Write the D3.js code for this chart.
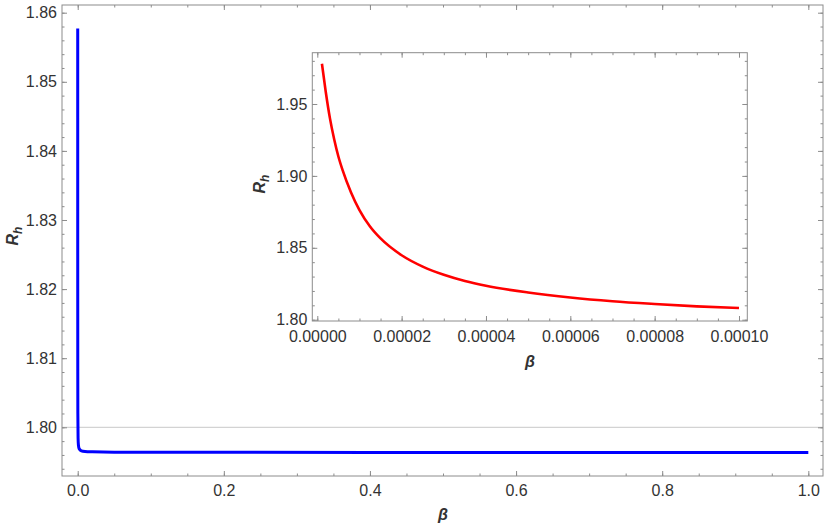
<!DOCTYPE html>
<html>
<head>
<meta charset="utf-8">
<script src="https://cdn.jsdelivr.net/npm/d3@7"></script>
<style>
  body { margin: 0; background: #fff; }
  text { font-family: "Liberation Sans", Arial, sans-serif; }
</style>
</head>
<body>
<div id="chart"></div>
<script>
// curva principal (beta de 0 a 1)
const betaMain = [0.000014, 0.00002, 0.00003, 0.00005, 0.0001, 0.0002, 0.0005, 0.001, 0.002, 0.005, 0.01, 0.02, 0.05, 0.1, 0.2, 0.4, 0.6, 0.8, 1.0];
const rhMain = [1.8577, 1.8448, 1.8312, 1.8189, 1.8081, 1.8020, 1.7985, 1.7974, 1.7969, 1.7966, 1.7965, 1.79645, 1.7964, 1.79640, 1.79638, 1.79637, 1.79636, 1.79635, 1.79635];

// curva del recuadro (beta pequeño)
const betaInset = [0.0000011, 0.000002, 0.000003, 0.000004, 0.000005, 0.000006, 0.000008, 0.00001, 0.0000125, 0.000015, 0.00002, 0.000025, 0.00003, 0.000035, 0.00004, 0.00005, 0.00006, 0.00007, 0.00008, 0.00009, 0.0001];
const rhInset = [1.9780, 1.9585, 1.9400, 1.9255, 1.9135, 1.9040, 1.8885, 1.8762, 1.8648, 1.8565, 1.8448, 1.8369, 1.8312, 1.8269, 1.8236, 1.8189, 1.8154, 1.8128, 1.8109, 1.8093, 1.8081];

// ticks
const mainXTicks = [0, 0.2, 0.4, 0.6, 0.8, 1.0];
const mainYTicks = [1.80, 1.81, 1.82, 1.83, 1.84, 1.85, 1.86];
const insetXTicks = [0, 0.00002, 0.00004, 0.00006, 0.00008, 0.0001];
const insetYTicks = [1.80, 1.85, 1.90, 1.95];

const W = 830, H = 528;
const frameColor = "#8c8c8c";
const labelColor = "#333";

const svg = d3.select("#chart").append("svg")
  .attr("width", W).attr("height", H);

function range(a, b, step) {
  const out = [];
  const n = Math.round((b - a) / step);
  for (let i = 0; i <= n; i++) out.push(a + i * step);
  return out;
}

// dibuja un panel con marco y ticks en los cuatro lados
function drawPanel(g, x, y, opts) {
  const [x0, x1] = x.range();
  const [y0, y1] = y.range(); // y0 abajo, y1 arriba

  g.append("rect")
    .attr("x", x0).attr("y", y1)
    .attr("width", x1 - x0).attr("height", y0 - y1)
    .attr("fill", "#fff");

  if (opts.grid != null) {
    g.append("line")
      .attr("x1", x0).attr("x2", x1)
      .attr("y1", y(opts.grid)).attr("y2", y(opts.grid))
      .attr("stroke", "#c8c8c8").attr("stroke-width", 1);
  }

  const line = d3.line()
    .x((d, i) => x(opts.xs[i]))
    .y(d => y(d))
    .curve(d3.curveMonotoneX);

  g.append("path")
    .datum(opts.ys)
    .attr("d", line)
    .attr("fill", "none")
    .attr("stroke", opts.color)
    .attr("stroke-width", opts.width)
    .attr("stroke-linejoin", "round");

  const minorX = range(opts.minorX[0], opts.minorX[1], opts.minorX[2]);
  const minorY = range(opts.minorY[0], opts.minorY[1], opts.minorY[2]);

  // [eje, transform, mayores, menores, etiquetas, formato, separación]
  const axes = [
    [d3.axisBottom(x), "translate(0," + y0 + ")", opts.xTicks, minorX, true, opts.fmt[0], opts.padX],
    [d3.axisTop(x), "translate(0," + y1 + ")", opts.xTicks, minorX, false, null, 0],
    [d3.axisLeft(y), "translate(" + x0 + ",0)", opts.yTicks, minorY, true, opts.fmt[1], opts.padY],
    [d3.axisRight(y), "translate(" + x1 + ",0)", opts.yTicks, minorY, false, null, 0]
  ];

  axes.forEach(([ax, tr, majors, minors, labels, fmt, pad]) => {
    const minorG = g.append("g").attr("transform", tr)
      .call(ax.tickValues(minors).tickSize(-2.5).tickFormat("").tickSizeOuter(0));
    minorG.select(".domain").remove();
    minorG.selectAll("line").attr("stroke", frameColor);

    const majorG = g.append("g").attr("transform", tr)
      .call(ax.tickValues(majors).tickSize(-5).tickSizeOuter(0)
        .tickPadding(pad)
        .tickFormat(labels ? fmt : ""));
    majorG.select(".domain").remove();
    majorG.selectAll("line").attr("stroke", frameColor);
    majorG.selectAll("text")
      .attr("fill", labelColor)
      .style("font-size", "16px");
  });

  g.append("rect")
    .attr("x", x0).attr("y", y1)
    .attr("width", x1 - x0).attr("height", y0 - y1)
    .attr("fill", "none")
    .attr("stroke", frameColor).attr("stroke-width", 1);
}

function axisLabels(g, bx, by, rx, ry) {
  g.append("text")
    .attr("x", bx).attr("y", by)
    .attr("text-anchor", "middle")
    .style("font-size", "16px").style("font-weight", "bold").style("font-style", "italic")
    .attr("fill", labelColor)
    .text("β");
  const t = g.append("text")
    .attr("transform", "translate(" + rx + "," + ry + ") rotate(-90)")
    .attr("text-anchor", "middle")
    .style("font-size", "16px").style("font-weight", "bold").style("font-style", "italic")
    .attr("fill", labelColor);
  t.append("tspan").text("R");
  t.append("tspan").attr("dy", 4).style("font-size", "12px").text("h");
}

// panel principal
const xMain = d3.scaleLinear().domain([-0.0215, 1.0201]).range([62, 823]);
const yMain = d3.scaleLinear().domain([1.792952, 1.861114]).range([476, 5]);

const gMain = svg.append("g");
drawPanel(gMain, xMain, yMain, {
  xs: betaMain, ys: rhMain, color: "#0000ff", width: 3,
  grid: 1.80,
  xTicks: mainXTicks, yTicks: mainYTicks,
  minorX: [0, 1.0, 0.05], minorY: [1.794, 1.86, 0.002],
  fmt: [d3.format(".1f"), d3.format(".2f")],
  padX: 9, padY: 5
});
axisLabels(gMain, 443, 520, 17.5, 236);

// recuadro
const xIn = d3.scaleLinear().domain([-0.000001186, 0.00010197]).range([312.3, 747.3]);
const yIn = d3.scaleLinear().domain([1.7991, 1.98567]).range([321, 52.7]);

const gIn = svg.append("g");
drawPanel(gIn, xIn, yIn, {
  xs: betaInset, ys: rhInset, color: "#ff0000", width: 2.6,
  grid: null,
  xTicks: insetXTicks, yTicks: insetYTicks,
  minorX: [0, 0.0001, 0.000005], minorY: [1.80, 1.98, 0.01],
  fmt: [d3.format(".5f"), d3.format(".2f")],
  padX: 10, padY: 5
});
axisLabels(gIn, 530, 367, 265, 184);
</script>
</body>
</html>
